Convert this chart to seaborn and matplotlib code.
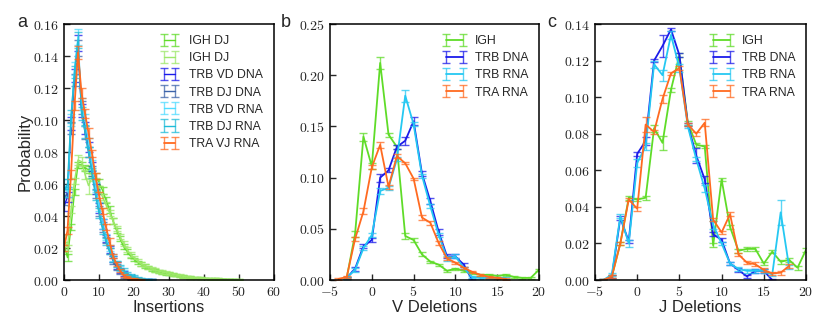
import numpy as np
import pandas as pd
import matplotlib
matplotlib.use("Agg")
import matplotlib.pyplot as plt
import seaborn as sns
from matplotlib.container import ErrorbarContainer

# ---------------- data: panel a (insertions) ----------------
ins_x_igh = list(range(0, 51))
ins_igh_dj_1 = [0.022, 0.014, 0.033, 0.055, 0.072, 0.072, 0.070, 0.069, 0.067, 0.065,
                0.061, 0.056, 0.050, 0.044, 0.037, 0.031, 0.026, 0.021, 0.018, 0.015,
                0.013, 0.011, 0.010, 0.0088, 0.0078, 0.0068, 0.0060, 0.0053, 0.0047, 0.0042,
                0.0040, 0.0035, 0.0030, 0.0026, 0.0022, 0.0019, 0.0017, 0.0015, 0.0013, 0.0011,
                0.0010, 0.0009, 0.0008, 0.0007, 0.0006, 0.0005, 0.0004, 0.0003, 0.0003, 0.0002, 0.0002]
ins_igh_dj_2 = [0.026, 0.020, 0.044, 0.062, 0.075, 0.074, 0.066, 0.059, 0.064, 0.062,
                0.057, 0.052, 0.047, 0.042, 0.037, 0.032, 0.027, 0.023, 0.019, 0.016,
                0.014, 0.012, 0.010, 0.009, 0.008, 0.007, 0.0062, 0.0055, 0.0050, 0.0045,
                0.0042, 0.0036, 0.0031, 0.0027, 0.0023, 0.0020, 0.0017, 0.0015, 0.0013, 0.0011,
                0.0010, 0.0009, 0.0008, 0.0007, 0.0006, 0.0005, 0.0004, 0.0003, 0.0003, 0.0002, 0.0002]
ins_igh_err_1 = [0.002, 0.002, 0.002, 0.002, 0.002, 0.002, 0.002, 0.002, 0.002, 0.002,
                 0.002, 0.002, 0.002, 0.002, 0.002, 0.0015, 0.0015, 0.0015, 0.0015, 0.0015,
                 0.001, 0.001, 0.001, 0.001, 0.001, 0.001, 0.001, 0.001, 0.001, 0.001,
                 0.001, 0.0008, 0.0008, 0.0008, 0.0008, 0.0008, 0.0008, 0.0005, 0.0005, 0.0005,
                 0.0005, 0.0005, 0.0005, 0.0005, 0.0005, 0.0003, 0.0003, 0.0003, 0.0003, 0.0003, 0.0003]
ins_igh_err_2 = [0.002, 0.002, 0.002, 0.002, 0.003, 0.003, 0.003, 0.005, 0.002, 0.002,
                 0.002, 0.002, 0.002, 0.002, 0.002, 0.0015, 0.0015, 0.0015, 0.0015, 0.0015,
                 0.001, 0.001, 0.001, 0.001, 0.001, 0.001, 0.001, 0.001, 0.001, 0.001,
                 0.001, 0.0008, 0.0008, 0.0008, 0.0008, 0.0008, 0.0008, 0.0005, 0.0005, 0.0005,
                 0.0005, 0.0005, 0.0005, 0.0005, 0.0005, 0.0003, 0.0003, 0.0003, 0.0003, 0.0003, 0.0003]

ins_x_tcr = list(range(0, 26))
ins_trb_vd_dna = [0.046, 0.052, 0.098, 0.128, 0.148, 0.106, 0.095, 0.083, 0.071, 0.057,
                  0.045, 0.035, 0.026, 0.019, 0.013, 0.009, 0.006, 0.004, 0.0025, 0.0015,
                  0.0010, 0.0006, 0.0004, 0.0002, 0.0001, 0.0]
ins_trb_dj_dna = [0.050, 0.055, 0.095, 0.125, 0.145, 0.108, 0.092, 0.080, 0.068, 0.054,
                  0.043, 0.033, 0.025, 0.018, 0.012, 0.008, 0.005, 0.003, 0.002, 0.0012,
                  0.0008, 0.0005, 0.0003, 0.0002, 0.0001, 0.0]
ins_trb_vd_rna = [0.060, 0.055, 0.100, 0.132, 0.152, 0.110, 0.100, 0.086, 0.072, 0.058,
                  0.046, 0.035, 0.027, 0.020, 0.014, 0.010, 0.007, 0.005, 0.003, 0.002,
                  0.0012, 0.0008, 0.0005, 0.0003, 0.0002, 0.0001]
ins_trb_dj_rna = [0.055, 0.060, 0.102, 0.130, 0.150, 0.104, 0.093, 0.080, 0.067, 0.053,
                  0.042, 0.032, 0.024, 0.018, 0.013, 0.010, 0.008, 0.006, 0.004, 0.003,
                  0.002, 0.0012, 0.0008, 0.0004, 0.0002, 0.0001]
ins_tcr_err = [0.003, 0.003, 0.004, 0.004, 0.005, 0.004, 0.004, 0.003, 0.003, 0.003,
               0.003, 0.003, 0.002, 0.002, 0.002, 0.002, 0.0015, 0.0015, 0.001, 0.001,
               0.001, 0.0005, 0.0005, 0.0005, 0.0005, 0.0005]
ins_x_tra = list(range(0, 23))
ins_tra_vj_rna = [0.020, 0.031, 0.066, 0.109, 0.142, 0.117, 0.104, 0.092, 0.079, 0.065,
                  0.053, 0.043, 0.033, 0.024, 0.015, 0.010, 0.006, 0.003, 0.0018, 0.0010,
                  0.0005, 0.0002, 0.0001]
ins_tra_err = [0.002, 0.002, 0.003, 0.003, 0.004, 0.003, 0.003, 0.003, 0.002, 0.002,
               0.002, 0.002, 0.002, 0.002, 0.0015, 0.0015, 0.001, 0.001, 0.0008, 0.0005,
               0.0005, 0.0003, 0.0003]

# ---------------- data: panel b (V deletions) ----------------
vdel_x_igh = list(range(-3, 21))
vdel_igh = [0.002, 0.045, 0.140, 0.111, 0.212, 0.142, 0.130, 0.043, 0.039, 0.025,
            0.018, 0.015, 0.009, 0.011, 0.009, 0.007, 0.005, 0.005, 0.004, 0.005,
            0.003, 0.002, 0.002, 0.010]
vdel_igh_err = [0.001, 0.003, 0.004, 0.003, 0.006, 0.002, 0.002, 0.003, 0.002, 0.002,
                0.001, 0.001, 0.001, 0.001, 0.001, 0.001, 0.001, 0.001, 0.001, 0.001,
                0.001, 0.001, 0.001, 0.001]
vdel_x_trb_dna = list(range(-3, 13))
vdel_trb_dna = [0.002, 0.011, 0.033, 0.039, 0.100, 0.107, 0.130, 0.136, 0.155, 0.104,
                0.077, 0.047, 0.023, 0.023, 0.015, 0.0]
vdel_trb_dna_err = [0.001, 0.002, 0.002, 0.002, 0.004, 0.002, 0.002, 0.004, 0.004, 0.002,
                    0.003, 0.003, 0.002, 0.002, 0.002, 0.001]
vdel_x_trb_rna = list(range(-3, 17))
vdel_trb_rna = [0.002, 0.010, 0.031, 0.044, 0.087, 0.090, 0.118, 0.180, 0.152, 0.102,
                0.072, 0.044, 0.021, 0.023, 0.012, 0.003, 0.002, 0.002, 0.002, 0.002]
vdel_trb_rna_err = [0.001, 0.002, 0.002, 0.002, 0.003, 0.002, 0.002, 0.006, 0.002, 0.002,
                    0.002, 0.002, 0.002, 0.002, 0.001, 0.001, 0.001, 0.001, 0.001, 0.001]
vdel_x_tra_rna = list(range(-4, 17))
vdel_tra_rna = [0.001, 0.003, 0.040, 0.067, 0.110, 0.132, 0.091, 0.121, 0.114, 0.099,
                0.061, 0.056, 0.036, 0.021, 0.017, 0.012, 0.008, 0.005, 0.003, 0.002, 0.001]
vdel_tra_rna_err = [0.001, 0.001, 0.002, 0.003, 0.002, 0.003, 0.002, 0.002, 0.001, 0.001,
                    0.002, 0.002, 0.002, 0.001, 0.001, 0.001, 0.001, 0.001, 0.001, 0.001, 0.001]

# ---------------- data: panel c (J deletions) ----------------
jdel_x_igh = list(range(-4, 21))
jdel_igh = [0.0, 0.002, 0.020, 0.045, 0.044, 0.045, 0.083, 0.075, 0.104, 0.123,
            0.086, 0.074, 0.073, 0.019, 0.055, 0.029, 0.016, 0.017, 0.017, 0.009,
            0.0155, 0.010, 0.011, 0.0067, 0.0165]
jdel_igh_err = [0.0005, 0.001, 0.001, 0.001, 0.001, 0.001, 0.002, 0.004, 0.001, 0.001,
                0.001, 0.001, 0.001, 0.001, 0.001, 0.001, 0.001, 0.001, 0.001, 0.001,
                0.001, 0.001, 0.001, 0.001, 0.001]
jdel_x_trb_dna = list(range(-4, 17))
jdel_trb_dna = [0.0, 0.002, 0.034, 0.021, 0.069, 0.076, 0.120, 0.128, 0.137, 0.123,
                0.085, 0.068, 0.055, 0.025, 0.022, 0.009, 0.0055, 0.002, 0.005, 0.005, 0.0]
jdel_trb_dna_err = [0.0005, 0.001, 0.001, 0.001, 0.001, 0.002, 0.001, 0.006, 0.001, 0.001,
                    0.001, 0.004, 0.002, 0.001, 0.001, 0.001, 0.001, 0.001, 0.001, 0.001, 0.0005]
jdel_x_trb_rna = list(range(-4, 19))
jdel_trb_rna = [0.0, 0.003, 0.035, 0.020, 0.064, 0.073, 0.118, 0.112, 0.134, 0.116,
                0.084, 0.066, 0.050, 0.030, 0.020, 0.009, 0.006, 0.005, 0.005, 0.005,
                0.003, 0.037, 0.007]
jdel_trb_rna_err = [0.0005, 0.001, 0.001, 0.002, 0.002, 0.002, 0.002, 0.003, 0.002, 0.002,
                    0.001, 0.001, 0.002, 0.002, 0.001, 0.001, 0.001, 0.001, 0.001, 0.001,
                    0.001, 0.007, 0.001]
jdel_x_tra_rna = list(range(-4, 19))
jdel_tra_rna = [0.0, 0.002, 0.020, 0.044, 0.039, 0.085, 0.081, 0.099, 0.113, 0.116,
                0.085, 0.080, 0.086, 0.033, 0.026, 0.036, 0.014, 0.0095, 0.0086, 0.0055,
                0.0036, 0.004, 0.0077]
jdel_tra_rna_err = [0.0005, 0.001, 0.001, 0.001, 0.001, 0.004, 0.001, 0.002, 0.001, 0.001,
                    0.001, 0.001, 0.002, 0.001, 0.001, 0.001, 0.001, 0.001, 0.001, 0.001,
                    0.001, 0.001, 0.001]

# ---------------- styling ----------------
sns.set_style("ticks")
plt.rcParams["font.family"] = ["Liberation Sans", "DejaVu Sans"]
plt.rcParams["mathtext.fontset"] = "cm"

C_IGH = "#5fdc28"
C_IGH2 = "#9ee86a"
C_TRB_DNA = "#1b1bea"
C_TRB_DJ_DNA = "#3d64aa"
C_TRB_RNA = "#25c8f2"
C_TRB_VD_RNA = "#4fdcff"
C_TRB_DJ_RNA = "#1fbcd8"
C_TRA = "#ff6a20"

fig = plt.figure(figsize=(8.30, 3.32), dpi=100)
W, H = 830.0, 332.0
ax_a = fig.add_axes([64 / W, (H - 280) / H, 210 / W, 256 / H])
ax_b = fig.add_axes([330 / W, (H - 280) / H, 209 / W, 256 / H])
ax_c = fig.add_axes([595 / W, (H - 280) / H, 211 / W, 256 / H])


def draw(ax, x, y, err, color, label, lw=1.3):
    df = pd.DataFrame({"x": x, "y": y})
    sns.lineplot(data=df, x="x", y="y", ax=ax, color=color, lw=lw,
                 errorbar=None, legend=False, sort=False)
    line = ax.lines[-1]
    eb = ax.errorbar(x, y, yerr=err, fmt="none", ecolor=color, elinewidth=1.0,
                     capsize=3.2, capthick=1.0, alpha=0.75)
    return ErrorbarContainer((line, eb.lines[1], eb.lines[2]),
                             has_xerr=False, has_yerr=True, label=label)


def style(ax, xlim, xticks, ylim, yticks, yfmt, xlabel, ylabel=None):
    ax.set_xlim(*xlim)
    ax.set_ylim(*ylim)
    ax.set_xticks(xticks)
    ax.set_yticks(yticks)
    ax.set_xticklabels([r"$%d$" % v for v in xticks])
    ax.set_yticklabels([("$" + yfmt + "$") % v for v in yticks])
    ax.tick_params(direction="in", length=4.5, width=1.0, labelsize=10,
                   top=False, right=False, pad=3.5)
    for s in ax.spines.values():
        s.set_visible(True)
        s.set_linewidth(1.1)
        s.set_color("black")
    ax.set_xlabel(xlabel, fontsize=12, labelpad=1)
    ax.set_ylabel(ylabel if ylabel else "", fontsize=12, labelpad=0)


def legend(ax, handles, hl, htp):
    ax.legend(handles=handles, loc="upper right", frameon=False, numpoints=2,
              fontsize=8.8, handlelength=hl, handletextpad=htp, labelspacing=0.42,
              borderaxespad=0.3, bbox_to_anchor=(0.99, 0.99))


# panel a
h = []
h.append(draw(ax_a, ins_x_igh, ins_igh_dj_1, ins_igh_err_1, C_IGH, "IGH DJ", lw=1.0))
h.append(draw(ax_a, ins_x_igh, ins_igh_dj_2, ins_igh_err_2, C_IGH2, "IGH DJ", lw=1.0))
h.append(draw(ax_a, ins_x_tcr, ins_trb_vd_dna, ins_tcr_err, C_TRB_DNA, "TRB VD DNA", lw=1.0))
h.append(draw(ax_a, ins_x_tcr, ins_trb_dj_dna, ins_tcr_err, C_TRB_DJ_DNA, "TRB DJ DNA", lw=1.0))
h.append(draw(ax_a, ins_x_tcr, ins_trb_vd_rna, ins_tcr_err, C_TRB_VD_RNA, "TRB VD RNA", lw=1.0))
h.append(draw(ax_a, ins_x_tcr, ins_trb_dj_rna, ins_tcr_err, C_TRB_DJ_RNA, "TRB DJ RNA", lw=1.0))
h.append(draw(ax_a, ins_x_tra, ins_tra_vj_rna, ins_tra_err, C_TRA, "TRA VJ RNA", lw=1.3))
style(ax_a, (0, 60), [0, 10, 20, 30, 40, 50, 60], (0, 0.16),
      [0, 0.02, 0.04, 0.06, 0.08, 0.10, 0.12, 0.14, 0.16], "%.2f", "Insertions", "Probability")
legend(ax_a, h, 1.45, 0.9)

# panel b
h = []
h.append(draw(ax_b, vdel_x_igh, vdel_igh, vdel_igh_err, C_IGH, "IGH"))
h.append(draw(ax_b, vdel_x_trb_dna, vdel_trb_dna, vdel_trb_dna_err, C_TRB_DNA, "TRB DNA"))
h.append(draw(ax_b, vdel_x_trb_rna, vdel_trb_rna, vdel_trb_rna_err, C_TRB_RNA, "TRB RNA"))
h.append(draw(ax_b, vdel_x_tra_rna, vdel_tra_rna, vdel_tra_rna_err, C_TRA, "TRA RNA"))
style(ax_b, (-5, 20), [-5, 0, 5, 10, 15, 20], (0, 0.25),
      [0, 0.05, 0.10, 0.15, 0.20, 0.25], "%.2f", "V Deletions")
legend(ax_b, h, 1.95, 0.7)

# panel c
h = []
h.append(draw(ax_c, jdel_x_igh, jdel_igh, jdel_igh_err, C_IGH, "IGH"))
h.append(draw(ax_c, jdel_x_trb_dna, jdel_trb_dna, jdel_trb_dna_err, C_TRB_DNA, "TRB DNA"))
h.append(draw(ax_c, jdel_x_trb_rna, jdel_trb_rna, jdel_trb_rna_err, C_TRB_RNA, "TRB RNA"))
h.append(draw(ax_c, jdel_x_tra_rna, jdel_tra_rna, jdel_tra_rna_err, C_TRA, "TRA RNA"))
style(ax_c, (-5, 20), [-5, 0, 5, 10, 15, 20], (0, 0.14),
      [0, 0.02, 0.04, 0.06, 0.08, 0.10, 0.12, 0.14], "%.2f", "J Deletions")
legend(ax_c, h, 1.95, 0.7)

for lab, xpx in (("a", 17), ("b", 281), ("c", 547)):
    fig.text(xpx / W, 1 - 27 / H, lab, fontsize=13, ha="left", va="baseline")

fig.savefig("out.png", dpi=100)
